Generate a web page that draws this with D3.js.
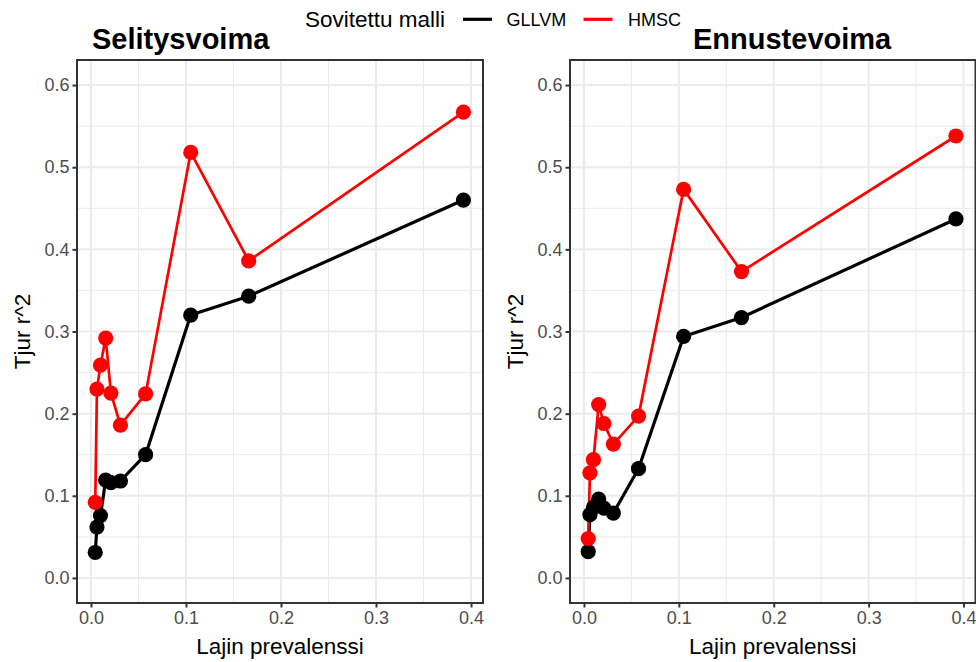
<!DOCTYPE html>
<html><head><meta charset="utf-8">
<script src="https://cdn.jsdelivr.net/npm/d3@7"></script>
<style>
body{margin:0;background:#fff}
svg{display:block}
text{font-family:"Liberation Sans",Arial,Helvetica,sans-serif}
</style>
</head><body><svg id="c" width="976" height="662"></svg>
<script>
// ---- data ----
const prevalence   = [0.0045, 0.0063, 0.010, 0.0155, 0.021, 0.031, 0.0575, 0.105, 0.166, 0.392];
const gllvmSelitys = [0.031, 0.062, 0.076, 0.119, 0.116, 0.118, 0.150, 0.320, 0.343, 0.460];
const hmscSelitys  = [0.092, 0.230, 0.259, 0.292, 0.225, 0.186, 0.224, 0.518, 0.386, 0.567];
const gllvmEnnuste = [0.032, 0.077, 0.086, 0.096, 0.085, 0.079, 0.133, 0.294, 0.317, 0.437];
const hmscEnnuste  = [0.048, 0.128, 0.144, 0.211, 0.188, 0.163, 0.197, 0.473, 0.373, 0.538];
const panelTitles  = ["Selitysvoima", "Ennustevoima"];
const modelNames   = ["GLLVM", "HMSC"];
const modelColors  = ["#000000", "#ff0000"];
const yTicks       = [0, 0.1, 0.2, 0.3, 0.4, 0.5, 0.6];
const yMinor       = [0.05, 0.15, 0.25, 0.35, 0.45, 0.55];
const xTicks       = [0, 0.1, 0.2, 0.3, 0.4];
const xMinor       = [0.05, 0.15, 0.25, 0.35];
const legendTitle  = "Sovitettu malli";
const xTitle       = "Lajin prevalenssi";
const yTitle       = "Tjur r^2";

const panelsData = [
  [gllvmSelitys, hmscSelitys],
  [gllvmEnnuste, hmscEnnuste]
];

// ---- layout ----
const svg = d3.select("#c");
const panels = [
  {x0: 77,  x1: 483,   titleX: 92,  yLabX: 30},
  {x0: 570, x1: 975.5, titleX: 693, yLabX: 523}
];
const plotTop = 60, plotBottom = 603;
const y = d3.scaleLinear().domain([-0.0305, 0.6305]).range([plotBottom, plotTop]);

panels.forEach((p, pi) => {
  const x = d3.scaleLinear().domain([-0.0147, 0.4126]).range([p.x0, p.x1]);
  const g = svg.append("g");

  // grid minor
  g.selectAll(".ymin").data(yMinor).join("line")
    .attr("x1", p.x0).attr("x2", p.x1)
    .attr("y1", d => y(d)).attr("y2", d => y(d))
    .attr("stroke", "#ebebeb").attr("stroke-width", 1);
  g.selectAll(".xmin").data(xMinor).join("line")
    .attr("y1", plotTop).attr("y2", plotBottom)
    .attr("x1", d => x(d)).attr("x2", d => x(d))
    .attr("stroke", "#ebebeb").attr("stroke-width", 1);
  // grid major
  g.selectAll(".ymaj").data(yTicks).join("line")
    .attr("x1", p.x0).attr("x2", p.x1)
    .attr("y1", d => y(d)).attr("y2", d => y(d))
    .attr("stroke", "#ebebeb").attr("stroke-width", 2);
  g.selectAll(".xmaj").data(xTicks).join("line")
    .attr("y1", plotTop).attr("y2", plotBottom)
    .attr("x1", d => x(d)).attr("x2", d => x(d))
    .attr("stroke", "#ebebeb").attr("stroke-width", 2);

  // series
  const vals = panelsData[pi];
  vals.forEach((s, si) => {
    const pts = prevalence.map((v, i) => [v, s[i]]);
    g.append("path")
      .attr("d", d3.line().x(d => x(d[0])).y(d => y(d[1]))(pts))
      .attr("fill", "none")
      .attr("stroke", modelColors[si])
      .attr("stroke-width", si === 0 ? 3.2 : 2.7)
      .attr("stroke-linejoin", "round");
  });
  vals.forEach((s, si) => {
    const pts = prevalence.map((v, i) => [v, s[i]]);
    g.selectAll(null).data(pts).join("circle")
      .attr("cx", d => x(d[0])).attr("cy", d => y(d[1]))
      .attr("r", 7.6).attr("fill", modelColors[si]);
  });

  // frame
  g.append("rect").attr("x", p.x0).attr("y", plotTop)
    .attr("width", p.x1 - p.x0).attr("height", plotBottom - plotTop)
    .attr("fill", "none").attr("stroke", "#333333").attr("stroke-width", 2);

  // axes
  const ya = g.append("g").attr("transform", `translate(${p.x0},0)`)
    .call(d3.axisLeft(y).tickValues(yTicks).tickFormat(d3.format(".1f")).tickSize(4.5).tickPadding(3));
  const xa = g.append("g").attr("transform", `translate(0,${plotBottom})`)
    .call(d3.axisBottom(x).tickValues(xTicks).tickFormat(d3.format(".1f")).tickSize(4.5).tickPadding(4));
  [ya, xa].forEach(a => {
    a.select(".domain").remove();
    a.selectAll(".tick line").attr("stroke", "#333333").attr("stroke-width", 2);
    a.selectAll(".tick text").attr("fill", "#4d4d4d").style("font-size", "18px")
      .style("font-family", '"Liberation Sans",Arial,sans-serif');
  });

  // titles
  g.append("text").attr("x", p.titleX).attr("y", 49)
    .style("font-size", "29px").style("font-weight", "bold").attr("fill", "#000")
    .text(panelTitles[pi]);
  g.append("text").attr("x", (p.x0 + p.x1) / 2).attr("y", 654)
    .attr("text-anchor", "middle").style("font-size", "22.5px").attr("fill", "#000")
    .text(xTitle);
  g.append("text")
    .attr("transform", `translate(${p.yLabX},${(plotTop + plotBottom) / 2}) rotate(-90)`)
    .attr("text-anchor", "middle").style("font-size", "22.5px").attr("fill", "#000")
    .text(yTitle);
});

// legend
const lg = svg.append("g");
lg.append("text").attr("x", 305).attr("y", 27.3).style("font-size", "22.5px").attr("fill", "#000").text(legendTitle);
const keyX = [463, 583.5], labX = [506.5, 628];
modelNames.forEach((m, i) => {
  lg.append("line").attr("x1", keyX[i]).attr("x2", keyX[i] + 29)
    .attr("y1", 19.3).attr("y2", 19.3)
    .attr("stroke", modelColors[i]).attr("stroke-width", 3.2);
  lg.append("text").attr("x", labX[i]).attr("y", 26).style("font-size", "18px").attr("fill", "#000").text(m);
});
</script>
</body></html>
